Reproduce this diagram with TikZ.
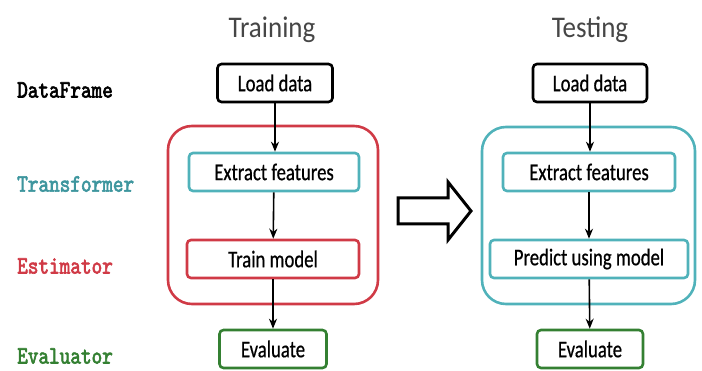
\documentclass[tikz,border=0pt]{standalone}
\usepackage{fontspec}
\setmainfont{Carlito}
\newfontfamily\boxfont[FakeStretch=0.78,FakeBold=0.6]{Carlito}
\newfontfamily\headfont[FakeStretch=0.9]{Carlito}
\newfontfamily\lblfont[FakeStretch=0.81,FakeBold=2.5]{lmmono10-regular.otf}
\usetikzlibrary{arrows.meta,positioning,calc}
\definecolor{trainred}{RGB}{208,58,70}
\definecolor{featcyan}{RGB}{80,178,186}
\definecolor{cyantext}{RGB}{62,150,158}
\definecolor{evalgreen}{RGB}{52,128,50}
\definecolor{headgray}{RGB}{70,70,70}

\begin{document}
\begin{tikzpicture}[x=1pt, y=-1pt, >=Stealth,
  box/.style={draw, fill=white, line width=2.6pt, rounded corners=4pt,
    minimum height=38pt, inner sep=0pt, font=\boxfont\fontsize{24}{24}\selectfont},
  stage/.style={line width=2.6pt, rounded corners=24pt},
  flow/.style={-{Stealth[length=10pt,width=8pt]}, line width=1.6pt},
  role/.style={anchor=west, inner sep=0pt, font=\lblfont\fontsize{25}{25}\selectfont},
  title/.style={text=headgray, inner sep=0pt, font=\headfont\fontsize{30}{30}\selectfont}]
  \useasboundingbox (0,0) rectangle (702,371);

  % Row labels
  \node[role] (rdata) at (17,90) {DataFrame};
  \node[role, text=cyantext] (rtrans) at (17,184) {Transformer};
  \node[role, text=trainred] (restim) at (17,266) {Estimator};
  \node[role, text=evalgreen] (reval) at (17,356) {Evaluator};

  % Training
  \node[title] (train) at (272,30) {Training};
  \draw[stage, trainred] (168,126) rectangle (378,304);
  \node[box, minimum width=115pt] (tload) at (275,83) {Load data};
  \node[box, draw=featcyan, minimum width=170pt] (textract) at (274,172) {Extract features};
  \node[box, draw=trainred, minimum width=172pt] (tmodel) at (273,259) {Train model};
  \node[box, draw=evalgreen, minimum width=107pt] (teval) at (273,349) {Evaluate};
  \draw[flow] (tload.south) -- (tload.south |- textract.north);
  \draw[flow] (textract) -- (tmodel);
  \draw[flow] (tmodel) -- (teval);

  % big arrow
  \draw[line width=3pt, line join=miter] (398,198) -- (448,198) -- (448,182) -- (471,211)
    -- (448,240) -- (448,224) -- (398,224) -- cycle;

  % Testing
  \node[title] (test) at (590,30) {Testing};
  \draw[stage, featcyan] (482,127) rectangle (695,304);
  \node[box, minimum width=114pt] (sload) at (590,83) {Load data};
  \node[box, draw=featcyan, minimum width=172pt] (sextract) at (589,172) {Extract features};
  \node[box, draw=featcyan, minimum width=198pt] (spredict) at (589,259) {Predict using model};
  \node[box, draw=evalgreen, minimum width=106pt] (seval) at (590,349) {Evaluate};
  \draw[flow] (sload.south) -- (sload.south |- sextract.north);
  \draw[flow] (sextract) -- (spredict);
  \draw[flow] (spredict) -- (seval);
\end{tikzpicture}
\end{document}
